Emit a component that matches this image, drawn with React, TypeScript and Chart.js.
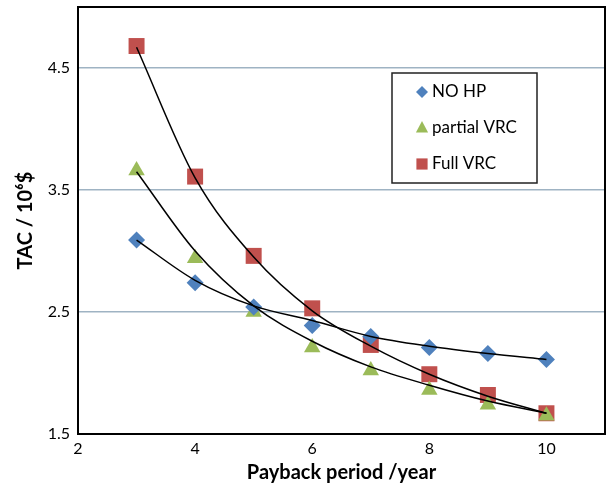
import React, { useEffect, useRef } from "react";
import { Chart, registerables } from "chart.js";

Chart.register(...registerables);

const years = [3, 4, 5, 6, 7, 8, 9, 10];
const noHP = [3.09, 2.74, 2.54, 2.39, 2.30, 2.21, 2.16, 2.11];
const partialVRC = [3.66, 2.94, 2.5, 2.21, 2.02, 1.86, 1.74, 1.65];
const fullVRC = [4.68, 3.61, 2.96, 2.53, 2.23, 1.99, 1.82, 1.67];

// fitted trend lines
const noHPTrend = [3.09, 2.76, 2.55, 2.43, 2.3, 2.22, 2.16, 2.11];
const partialTrend = [3.65, 3.0, 2.55, 2.26, 2.05, 1.9, 1.77, 1.67];
const fullTrend = [4.67, 3.6, 2.95, 2.51, 2.22, 1.99, 1.81, 1.67];

const yTicks = [1.5, 2.5, 3.5, 4.5];
const xTicks = [2, 4, 6, 8, 10];

const BLUE = "#4F81BD";
const GREEN = "#9BBB59";
const RED = "#C0504D";
const FONT = "Lato, 'Open Sans', sans-serif";

const legendItems = [
  { label: "NO HP", color: BLUE, style: "rectRot" },
  { label: "partial VRC", color: GREEN, style: "triangle" },
  { label: "Full VRC", color: RED, style: "rect" },
];

const toPts = (arr: number[]) => arr.map((y, i) => ({ x: years[i], y }));

export default function App() {
  const ref = useRef<HTMLCanvasElement>(null);
  useEffect(() => {
    if (!ref.current) return;
    const framePlugin = {
      id: "frame",
      beforeDatasetsDraw(chart: any) {
        const { ctx, chartArea: a } = chart;
        ctx.save();
        ctx.strokeStyle = "#000";
        ctx.lineWidth = 2;
        ctx.strokeRect(a.left, a.top, a.right - a.left, a.bottom - a.top);
        ctx.restore();
      },
      afterDraw(chart: any) {
        const { ctx, chartArea: a } = chart;
        const x0 = a.left + 314;
        const y0 = a.top + 66;
        const w = 145;
        const h = 110;
        ctx.save();
        ctx.fillStyle = "#fff";
        ctx.fillRect(x0, y0, w, h);
        ctx.strokeStyle = "#222";
        ctx.lineWidth = 1.5;
        ctx.strokeRect(x0, y0, w, h);
        ctx.font = `17px ${FONT}`;
        ctx.textBaseline = "middle";
        ctx.textAlign = "left";
        legendItems.forEach((it, i) => {
          const cy = y0 + 19 + i * 36;
          const cx = x0 + 30;
          ctx.fillStyle = it.color;
          const r = it.style === "rect" ? 8 : it.style === "triangle" ? 7 : 6;
          ctx.beginPath();
          if (it.style === "rectRot") {
            ctx.moveTo(cx - r, cy);
            ctx.lineTo(cx, cy - r);
            ctx.lineTo(cx + r, cy);
            ctx.lineTo(cx, cy + r);
          } else if (it.style === "triangle") {
            ctx.moveTo(cx, cy - r);
            ctx.lineTo(cx + r * 0.87, cy + r * 0.5 + 1);
            ctx.lineTo(cx - r * 0.87, cy + r * 0.5 + 1);
          } else {
            const s = r * 0.7;
            ctx.rect(cx - s, cy - s, 2 * s, 2 * s);
          }
          ctx.closePath();
          ctx.fill();
          ctx.fillStyle = "#000";
          ctx.fillText(it.label, cx + 10, cy);
        });
        ctx.restore();
      },
    };

    const scatter = (label: string, data: number[], color: string, style: string, r: number) => ({
      type: "scatter" as const,
      label,
      data: toPts(data),
      pointStyle: style,
      pointRadius: r,
      pointBackgroundColor: color,
      pointBorderColor: color,
      pointBorderWidth: 0,
      showLine: false,
      order: 2,
    });
    const trend = (data: number[]) => ({
      type: "line" as const,
      label: "trend",
      data: toPts(data),
      borderColor: "#000",
      borderWidth: 1.5,
      pointRadius: 0,
      fill: false,
      cubicInterpolationMode: "monotone" as const,
      order: 1,
    });

    const chart = new Chart(ref.current, {
      type: "scatter",
      data: {
        datasets: [
          scatter("NO HP", noHP, BLUE, "rectRot", 8.5),
          scatter("partial VRC", partialVRC, GREEN, "triangle", 9.5),
          scatter("Full VRC", fullVRC, RED, "rect", 11.3),
          trend(noHPTrend),
          trend(partialTrend),
          trend(fullTrend),
        ] as any,
      },
      options: {
        animation: false,
        responsive: false,
        maintainAspectRatio: false,
        layout: { autoPadding: false, padding: { left: 0, right: 3, top: 7, bottom: 0 } },
        plugins: { legend: { display: false }, tooltip: { enabled: false } },
        scales: {
          x: {
            type: "linear",
            min: 2,
            max: 11,
            afterFit: (s: any) => {
              s.height = 57;
              s.paddingLeft = 0;
              s.paddingRight = 0;
            },
            afterBuildTicks: (s: any) => {
              s.ticks = xTicks.map((v) => ({ value: v }));
            },
            grid: { display: false, drawTicks: false },
            border: { display: false },
            ticks: {
              padding: 5,
              color: "#000",
              font: { family: FONT, size: 16 },
              maxRotation: 0,
            },
            title: {
              display: true,
              text: "Payback period /year",
              color: "#000",
              font: { family: FONT, size: 20, weight: "bold" },
              padding: { top: 0, bottom: 6 },
            },
          },
          y: {
            type: "linear",
            min: 1.5,
            max: 5,
            afterFit: (s: any) => {
              s.width = 78;
              s.paddingTop = 0;
              s.paddingBottom = 0;
            },
            afterBuildTicks: (s: any) => {
              s.ticks = yTicks.map((v) => ({ value: v }));
            },
            grid: { display: true, drawTicks: false, color: "#9FB3C3", lineWidth: 1.5 },
            border: { display: false },
            ticks: {
              padding: 8,
              color: "#000",
              font: { family: FONT, size: 16 },
              callback: (v: any) => Number(v).toFixed(1),
            },
            title: {
              display: true,
              text: "TAC / 10⁶$",
              color: "#000",
              font: { family: FONT, size: 20, weight: "bold" },
              padding: { top: 14, bottom: 0 },
            },
          },
        },
      },
      plugins: [framePlugin],
    });
    return () => chart.destroy();
  }, []);

  return (
    <div style={{ position: "absolute", left: 0, top: 0, width: 608, height: 491, background: "#fff" }}>
      <canvas ref={ref} width={608} height={491} style={{ width: 608, height: 491 }} />
    </div>
  );
}
